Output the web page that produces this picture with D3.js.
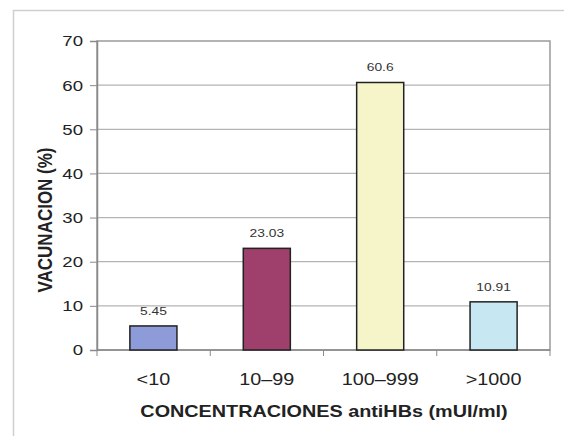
<!DOCTYPE html>
<html>
<head>
<meta charset="utf-8">
<script src="https://cdn.jsdelivr.net/npm/d3@7.9.0/dist/d3.min.js"></script>
<style>
  html, body { margin: 0; padding: 0; background: #fff; }
  svg { display: block; font-family: Arial, "Liberation Sans", sans-serif; }
</style>
</head>
<body>
<svg id="chart" width="564" height="436"></svg>
<script>
const categories = ['<10', '10\u201399', '100\u2013999', '>1000'];
const values = [5.45, 23.03, 60.6, 10.91];
const valueLabels = ['5.45', '23.03', '60.6', '10.91'];
const barColors = ['#8e9bd9', '#9e3f6c', '#f6f4c9', '#c7e7f3'];
const yTicks = [0, 10, 20, 30, 40, 50, 60, 70];

const svg = d3.select('#chart');
const margin = { top: 41, right: 14, bottom: 86, left: 97 };
const width = 564 - margin.left - margin.right;
const height = 436 - margin.top - margin.bottom;
const sx = 1.2; // the source picture is stretched sideways a bit

// outer frame (top and left only visible)
svg.append('path')
  .attr('d', 'M13.5,436 V10.5 H564')
  .attr('fill', 'none')
  .attr('stroke', '#cfcfcf')
  .attr('stroke-width', 1.5);

const g = svg.append('g').attr('transform', `translate(${margin.left},${margin.top})`);

const x = d3.scaleBand().domain(categories).range([0, width]).paddingInner(0.585).paddingOuter(0.29);
const y = d3.scaleLinear().domain([0, 70]).range([height, 0]);

// gridlines
g.selectAll('.grid')
  .data(yTicks.filter(d => d > 0 && d < 70))
  .join('line')
  .attr('x1', 0).attr('x2', width)
  .attr('y1', d => y(d)).attr('y2', d => y(d))
  .attr('stroke', '#b4b4b4')
  .attr('stroke-width', 1.2);

// plot border
g.append('rect')
  .attr('width', width).attr('height', height)
  .attr('fill', 'none')
  .attr('stroke', '#9a9a9a')
  .attr('stroke-width', 1.5);

// y axis
const yAxis = g.append('g')
  .call(d3.axisLeft(y).tickValues(yTicks).tickSize(7).tickPadding(7));
yAxis.select('.domain').attr('stroke', '#8a8a8a').attr('stroke-width', 1.5);
yAxis.selectAll('.tick line').attr('stroke', '#8a8a8a');
yAxis.selectAll('.tick text')
  .attr('font-size', 15.5).attr('fill', '#222')
  .attr('font-family', 'Arial, "Liberation Sans", sans-serif')
  .attr('x', null)
  .attr('transform', `translate(-14,0) scale(${sx},1)`);

// x axis: ticks at category boundaries
const xAxis = g.append('g').attr('transform', `translate(0,${height})`);
xAxis.append('line')
  .attr('x1', 0).attr('x2', width)
  .attr('stroke', '#8a8a8a').attr('stroke-width', 1.5);
xAxis.selectAll('.bt')
  .data(d3.range(categories.length + 1))
  .join('line')
  .attr('x1', i => i * (width / categories.length))
  .attr('x2', i => i * (width / categories.length))
  .attr('y1', 0).attr('y2', 6)
  .attr('stroke', '#8a8a8a');
xAxis.selectAll('.cl')
  .data(categories)
  .join('text')
  .attr('transform', d => `translate(${x(d) + x.bandwidth() / 2},35) scale(${sx},1)`)
  .attr('text-anchor', 'middle')
  .attr('font-size', 16.5)
  .attr('fill', '#222')
  .text(d => d);

// bars
g.selectAll('.bar')
  .data(values)
  .join('rect')
  .attr('x', (d, i) => x(categories[i]))
  .attr('y', d => y(d))
  .attr('width', x.bandwidth())
  .attr('height', d => height - y(d))
  .attr('fill', (d, i) => barColors[i])
  .attr('stroke', '#222')
  .attr('stroke-width', 1.5);

// value labels
g.selectAll('.vl')
  .data(values)
  .join('text')
  .attr('transform', (d, i) => `translate(${x(categories[i]) + x.bandwidth() / 2},${y(d) - 11}) scale(${sx},1)`)
  .attr('text-anchor', 'middle')
  .attr('font-size', 11.5)
  .attr('fill', '#333')
  .text((d, i) => valueLabels[i]);

// axis titles
svg.append('text')
  .attr('transform', `translate(52,220) scale(${sx},1) rotate(-90)`)
  .attr('text-anchor', 'middle')
  .attr('font-size', 17)
  .attr('font-weight', 'bold')
  .attr('fill', '#222')
  .text('VACUNACION (%)');

svg.append('text')
  .attr('transform', `translate(324,417) scale(${sx},1)`)
  .attr('text-anchor', 'middle')
  .attr('font-size', 16.5)
  .attr('font-weight', 'bold')
  .attr('fill', '#222')
  .text('CONCENTRACIONES antiHBs (mUI/ml)');
</script>
</body>
</html>
